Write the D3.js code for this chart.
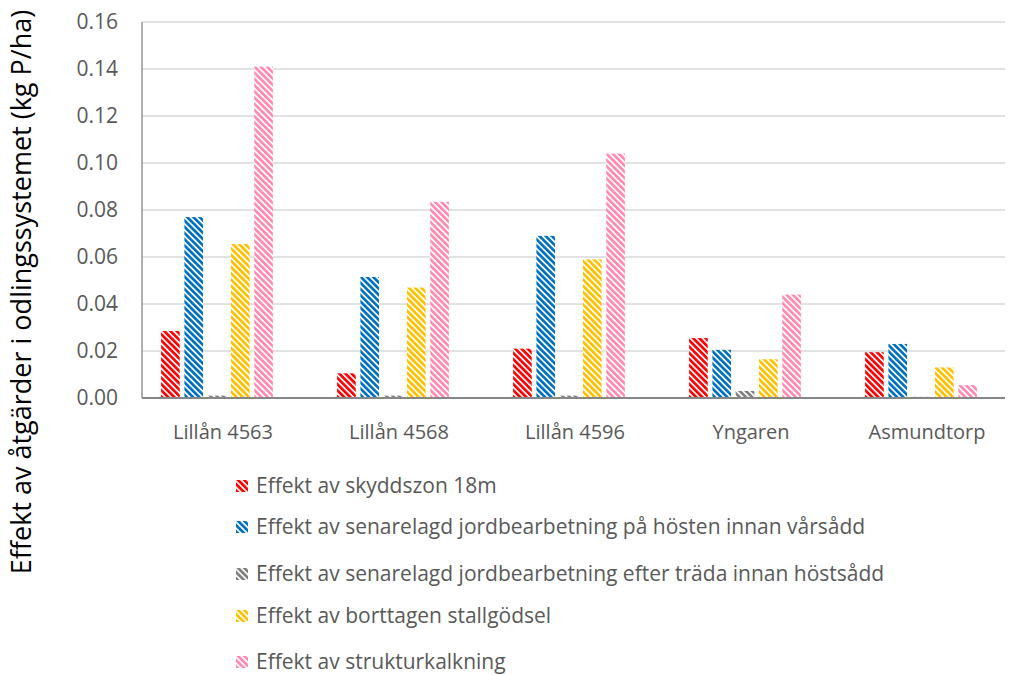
<!DOCTYPE html>
<html>
<head>
<meta charset="utf-8">
<script src="https://cdn.jsdelivr.net/npm/d3@7"></script>
<style>
    body { margin: 0; background: #fff; }
    svg text { font-family: "Open Sans", "Liberation Sans", sans-serif; fill: #595959; }
</style>
</head>
<body>
<div id="chart"></div>
<script>
// categories and series
const categories = ["Lillån 4563", "Lillån 4568", "Lillån 4596", "Yngaren", "Asmundtorp"];
const seriesNames = [
    "Effekt av skyddszon 18m",
    "Effekt av senarelagd jordbearbetning på hösten innan vårsådd",
    "Effekt av senarelagd jordbearbetning efter träda innan höstsådd",
    "Effekt av borttagen stallgödsel",
    "Effekt av strukturkalkning"
];
const seriesColors = ["#FF0000", "#0070C0", "#808080", "#FFC000", "#FF8AB0"];

// values per series, one per category
const skyddszon   = [0.0285, 0.0105, 0.021, 0.0255, 0.0195];
const senHost     = [0.077, 0.0515, 0.069, 0.0205, 0.023];
const senTrada    = [0.001, 0.001, 0.001, 0.003, 0.0005];
const stallgodsel = [0.0655, 0.047, 0.059, 0.0165, 0.013];
const kalkning    = [0.141, 0.0835, 0.104, 0.044, 0.0055];
const seriesValues = [skyddszon, senHost, senTrada, stallgodsel, kalkning];

const yTicks = [0, 0.02, 0.04, 0.06, 0.08, 0.10, 0.12, 0.14, 0.16];
const yTitle = "Effekt av åtgärder i odlingssystemet (kg P/ha)";

const width = 1010, height = 675;
const plot = {left: 142, right: 1005, top: 22, bottom: 398};

const svg = d3.select("#chart").append("svg")
    .attr("width", width)
    .attr("height", height);

// striped fills
const defs = svg.append("defs");
seriesColors.forEach((c, i) => {
    let p = defs.append("pattern")
        .attr("id", "stripe" + i)
        .attr("patternUnits", "userSpaceOnUse")
        .attr("width", 4.4)
        .attr("height", 4.4)
        .attr("patternTransform", "rotate(-45)");
    p.append("rect").attr("width", 4.4).attr("height", 4.4).attr("fill", "#fff");
    p.append("rect").attr("width", 2.7).attr("height", 4.4).attr("fill", c);
});

const y = d3.scaleLinear().domain([0, 0.16]).range([plot.bottom, plot.top]);
// bar clusters sit a little left of the plot box, as in the original
const x0 = d3.scaleBand().domain(categories).range([129, 1009]);
const groupW = 111.8;
const x1 = d3.scaleBand().domain(d3.range(5))
    .range([0, groupW])
    .paddingInner(0.2);

// gridlines
svg.append("g")
    .selectAll("line")
    .data(yTicks.slice(1))
    .join("line")
    .attr("x1", plot.left).attr("x2", plot.right)
    .attr("y1", d => y(d)).attr("y2", d => y(d))
    .attr("stroke", "#D9D9D9")
    .attr("stroke-width", 1.3);

// y axis labels
svg.append("g")
    .selectAll("text")
    .data(yTicks)
    .join("text")
    .attr("x", 118)
    .attr("y", d => y(d))
    .attr("dy", "0.35em")
    .attr("text-anchor", "end")
    .style("font-size", "21px")
    .text(d => d3.format(".2f")(d));

// y axis line
svg.append("line")
    .attr("x1", plot.left).attr("x2", plot.left)
    .attr("y1", plot.top).attr("y2", plot.bottom)
    .attr("stroke", "#868686").attr("stroke-width", 1.3);

// bars
const groups = svg.append("g")
    .selectAll("g")
    .data(categories)
    .join("g")
    .attr("transform", c => "translate(" + (x0(c) + (x0.bandwidth() - groupW) / 2) + ",0)");

groups.selectAll("rect")
    .data((c, ci) => seriesValues.map((vals, si) => ({si: si, v: vals[ci]})))
    .join("rect")
    .attr("x", d => x1(d.si))
    .attr("width", x1.bandwidth())
    .attr("y", d => y(d.v))
    .attr("height", d => plot.bottom - y(d.v))
    .attr("fill", d => "url(#stripe" + d.si + ")");

// x axis line
svg.append("line")
    .attr("x1", plot.left).attr("x2", plot.right)
    .attr("y1", plot.bottom).attr("y2", plot.bottom)
    .attr("stroke", "#868686").attr("stroke-width", 2);

// category labels
svg.append("g")
    .selectAll("text")
    .data(categories)
    .join("text")
    .attr("x", c => x0(c) + x0.bandwidth() / 2 + 6)
    .attr("y", 432)
    .attr("dy", "0.35em")
    .attr("text-anchor", "middle")
    .style("font-size", "20px")
    .text(c => c);

// y title
svg.append("text")
    .attr("transform", "translate(22,292) rotate(-90)")
    .attr("dy", "0.35em")
    .attr("text-anchor", "middle")
    .style("font-size", "27px")
    .style("fill", "#000")
    .text(yTitle);

// legend
const legendY = [486, 527, 574, 616, 662];
const legend = svg.append("g")
    .selectAll("g")
    .data(seriesNames)
    .join("g")
    .attr("transform", (d, i) => "translate(236," + legendY[i] + ")");

legend.append("rect")
    .attr("x", 0).attr("y", -6)
    .attr("width", 12).attr("height", 12)
    .attr("fill", (d, i) => "url(#stripe" + i + ")");

legend.append("text")
    .attr("x", 20)
    .attr("dy", "0.35em")
    .style("font-size", "21px")
    .text(d => d);
</script>
</body>
</html>
